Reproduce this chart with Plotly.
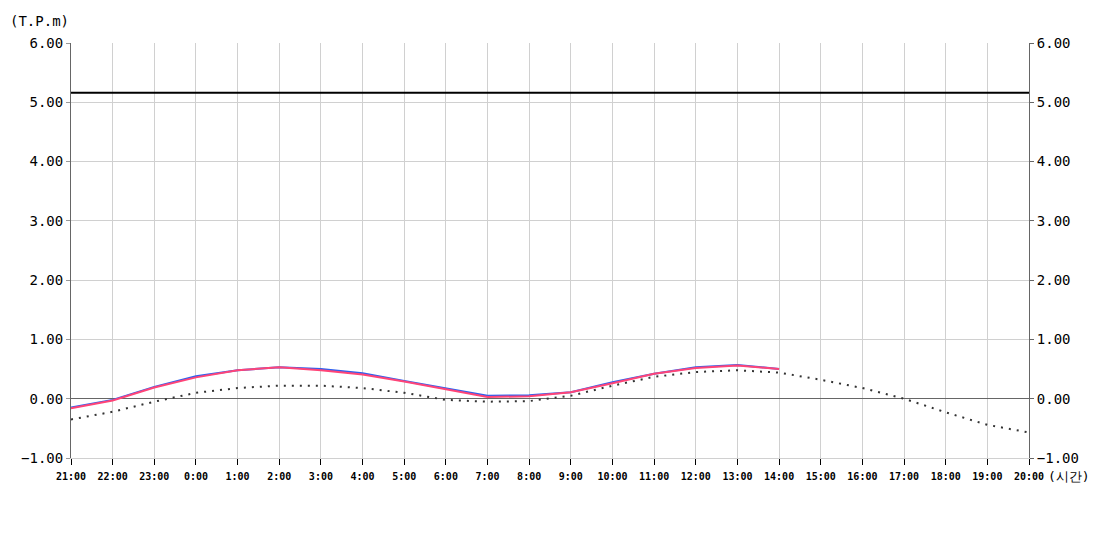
import plotly.graph_objects as go

hours = ["21:00","22:00","23:00","0:00","1:00","2:00","3:00","4:00","5:00","6:00","7:00","8:00",
         "9:00","10:00","11:00","12:00","13:00","14:00","15:00","16:00","17:00","18:00","19:00","20:00"]
blue_vals = [-0.15,-0.02,0.20,0.38,0.48,0.53,0.50,0.43,0.30,0.18,0.05,0.06,0.11,0.28,0.42,0.53,0.57,0.50]
red_vals  = [-0.16,-0.03,0.19,0.36,0.48,0.53,0.48,0.41,0.29,0.16,0.03,0.04,0.11,0.26,0.42,0.52,0.56,0.50]
dot_vals  = [-0.35,-0.22,-0.05,0.10,0.18,0.22,0.22,0.18,0.10,-0.02,-0.05,-0.04,0.05,0.22,0.37,0.45,0.48,0.44,
             0.32,0.18,0.00,-0.23,-0.44,-0.57]
limit_val = 5.16
y_ticks = [-1,0,1,2,3,4,5,6]

xi = list(range(len(hours)))
font = "DejaVu Sans Mono"

fig = go.Figure()
fig.add_trace(go.Scatter(x=xi, y=[limit_val]*len(hours), mode="lines",
                         line=dict(color="black", width=2), hoverinfo="skip"))
fig.add_trace(go.Scatter(x=xi, y=dot_vals, mode="lines",
                         line=dict(color="#333333", width=2, dash="2px,6px")))
fig.add_trace(go.Scatter(x=xi[:len(blue_vals)], y=blue_vals, mode="lines",
                         line=dict(color="#3060ee", width=2)))
fig.add_trace(go.Scatter(x=xi[:len(red_vals)], y=red_vals, mode="lines",
                         line=dict(color="#ff4477", width=2)))
fig.add_trace(go.Scatter(x=[0], y=[0], yaxis="y2", mode="markers",
                         marker=dict(opacity=0), hoverinfo="skip"))

fig.update_layout(
    width=1092, height=542, showlegend=False,
    paper_bgcolor="white", plot_bgcolor="white",
    margin=dict(l=63, r=71, t=35, b=92, autoexpand=False),
    font=dict(family=font, size=13, color="black"),
    xaxis=dict(range=[0, len(hours)-1], tickmode="array", tickvals=xi, ticktext=hours,
               tickfont=dict(size=10, family=font, weight="bold"), showgrid=True, gridcolor="#d0d0d0",
               ticks="outside", ticklen=6, tickcolor="black", zeroline=False, ticklabelstandoff=3,
               showline=True, linecolor="#d0d0d0", automargin=False),
    yaxis=dict(range=[-1, 6], tickvals=y_ticks, tickformat=".2f", showgrid=True,
               gridcolor="#d0d0d0", zeroline=True, zerolinecolor="#666666", zerolinewidth=1,
               ticks="outside", ticklen=4, tickcolor="#999999", showline=True, linecolor="#666666",
               tickfont=dict(size=14, family=font), automargin=False),
    yaxis2=dict(range=[-1, 6], tickvals=y_ticks, tickformat=".2f", overlaying="y", side="right",
                showgrid=False, zeroline=False, ticks="outside", ticklen=4, tickcolor="#666666",
                showline=True, linecolor="#666666", tickfont=dict(size=14, family=font),
                automargin=False),
    annotations=[
        dict(text="(T.P.m)", xref="paper", yref="paper", x=-0.066, y=1.028, xanchor="left",
             yanchor="bottom", showarrow=False, font=dict(size=14, family=font)),
        dict(text="(시간)", xref="paper", yref="paper", x=1.018, y=-0.045, xanchor="left",
             yanchor="middle", showarrow=False, font=dict(size=13, family=font)),
    ],
)
fig.write_html("out.html")
